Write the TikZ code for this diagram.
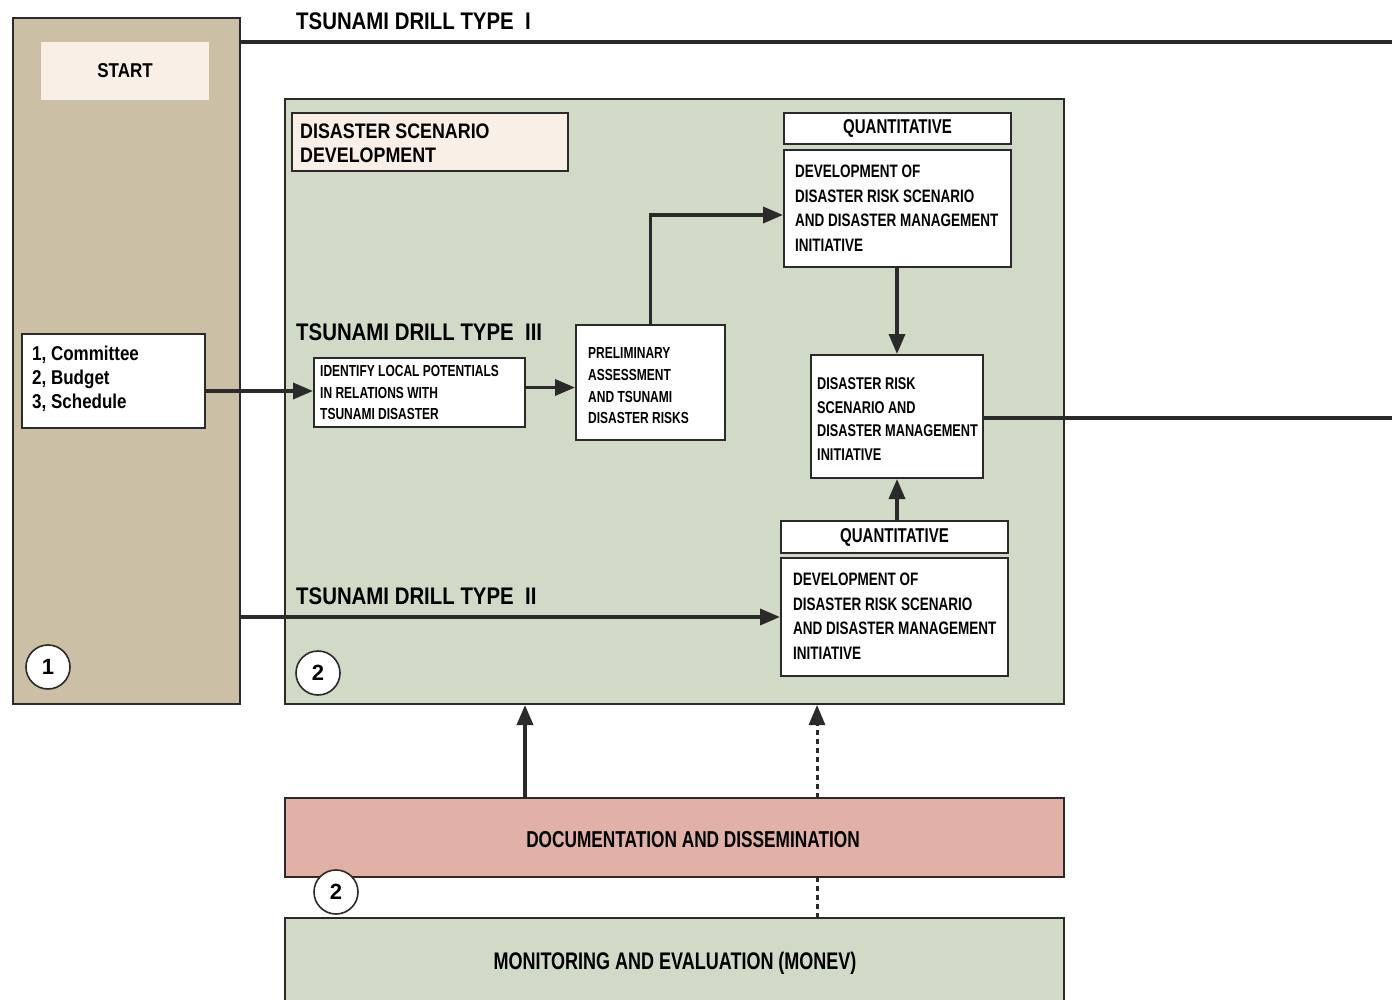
\documentclass[tikz,border=0pt]{standalone}
\usepackage{fontspec}
\setmainfont{Liberation Sans}
\newfontfamily\cndA[FakeStretch=0.85]{Liberation Sans}
\newfontfamily\cndB[FakeStretch=0.75]{Liberation Sans}
\usetikzlibrary{arrows.meta}
\definecolor{tanfill}{HTML}{CBBFA5}
\definecolor{greenfill}{HTML}{D0DAC6}
\definecolor{creamfill}{HTML}{FAEFE6}
\definecolor{pinkfill}{HTML}{E1B0A6}
\definecolor{edge}{HTML}{2A2A2A}
\begin{document}
\begin{tikzpicture}[x=1pt,y=-1pt,
  panel/.style={draw=edge, line width=2pt, inner sep=0pt},
  box/.style={draw=edge, line width=2pt, fill=white, inner sep=0pt},
  head/.style={font=\cndA\bfseries\fontsize{24}{28}\selectfont, anchor=west, inner sep=0pt},
  btxt/.style={font=\cndB\bfseries\fontsize{18}{24.5}\selectfont, align=left, anchor=west, inner sep=0pt},
  conn/.style={line width=3.5pt, draw=edge},
  arr/.style={conn, -{Triangle[length=20pt,width=16pt]}},
  darr/.style={line width=3pt, draw=edge, dashed, dash pattern=on 5pt off 4pt, -{Triangle[length=20pt,width=16pt]}},
  dline/.style={line width=3pt, draw=edge, dash pattern=on 5pt off 4pt},
  num/.style={circle, draw=edge, line width=1.6pt, fill=white, minimum size=44pt, inner sep=0pt, font=\bfseries\fontsize{22}{22}\selectfont}
]
\clip (0,0) rectangle (1392,1000);
\useasboundingbox (0,0) rectangle (1392,1000);
\fill[white] (0,0) rectangle (1392,1000);

% panels
\node[panel, fill=tanfill, minimum width=227pt, minimum height=686pt] (tan) at (126.5,361) {};
\node[fill=creamfill, minimum width=168pt, minimum height=58pt, inner sep=0pt, font=\cndA\bfseries\fontsize{20}{24}\selectfont] (start) at (125,71) {START};
\node[panel, fill=greenfill, minimum width=779pt, minimum height=605pt] (green) at (674.5,401.5) {};
\node[panel, fill=pinkfill, minimum width=779pt, minimum height=79pt] (doc) at (674.5,837.5) {};
\node[font=\cndB\bfseries\fontsize{23}{26}\selectfont, inner sep=0pt] (doctxt) at (693,840) {DOCUMENTATION AND DISSEMINATION};
\node[panel, fill=greenfill, minimum width=779pt, minimum height=104pt] (monev) at (674.5,970) {};
\node[font=\cndB\bfseries\fontsize{24}{26}\selectfont, inner sep=0pt] (monevtxt) at (675,963) {MONITORING AND EVALUATION (MONEV)};

% headings
\node[head] (t1) at (296,21) {TSUNAMI DRILL TYPE~~I};
\node[head] (t3) at (296,332) {TSUNAMI DRILL TYPE~~III};
\node[head] (t2) at (296,596) {TSUNAMI DRILL TYPE~~II};

% boxes
\node[box, fill=creamfill, minimum width=276pt, minimum height=58pt] (dsd) at (430,142) {};
\node[font=\cndA\bfseries\fontsize{21}{24}\selectfont, align=left, anchor=west, inner sep=0pt] (dsdtxt) at (300,143) {DISASTER SCENARIO\\DEVELOPMENT};

\node[box, minimum width=183pt, minimum height=94pt] (comm) at (113.5,381) {};
\node[font=\cndA\bfseries\fontsize{20}{24}\selectfont, align=left, anchor=west, inner sep=0pt] (commtxt) at (32,379) {1, Committee\\2, Budget\\3, Schedule};

\node[box, minimum width=211pt, minimum height=69pt] (ident) at (419.5,392.5) {};
\node[font=\cndB\bfseries\fontsize{16}{21.5}\selectfont, align=left, anchor=west, inner sep=0pt] (identtxt) at (320,392.5) {IDENTIFY LOCAL POTENTIALS\\IN RELATIONS WITH\\TSUNAMI DISASTER};

\node[box, minimum width=149pt, minimum height=115pt] (prelim) at (650.5,382.5) {};
\node[font=\cndB\bfseries\fontsize{16}{21.7}\selectfont, align=left, anchor=west, inner sep=0pt] (prelimtxt) at (588,386) {PRELIMINARY\\ASSESSMENT\\AND TSUNAMI\\DISASTER RISKS};

\node[box, minimum width=227pt, minimum height=31pt, font=\cndB\bfseries\fontsize{20}{22}\selectfont] (qtop) at (897.5,128.5) {QUANTITATIVE};
\node[box, minimum width=227pt, minimum height=117pt] (devtop) at (897.5,208.5) {};
\node[btxt] (devtoptxt) at (795,208) {DEVELOPMENT OF\\DISASTER RISK SCENARIO\\AND DISASTER MANAGEMENT\\INITIATIVE};

\node[box, minimum width=172pt, minimum height=123pt] (drisk) at (897,416.5) {};
\node[font=\cndB\bfseries\fontsize{17}{23.5}\selectfont, align=left, anchor=west, inner sep=0pt] (drisktxt) at (817,419) {DISASTER RISK\\SCENARIO AND\\DISASTER MANAGEMENT\\INITIATIVE};

\node[box, minimum width=227pt, minimum height=32pt, font=\cndB\bfseries\fontsize{20}{22}\selectfont] (qbot) at (894.5,537) {QUANTITATIVE};
\node[box, minimum width=227pt, minimum height=118pt] (devbot) at (894.5,617) {};
\node[btxt] (devbottxt) at (793,616) {DEVELOPMENT OF\\DISASTER RISK SCENARIO\\AND DISASTER MANAGEMENT\\INITIATIVE};

% number markers
\node[num] (n1) at (48,667) {1};
\node[num] (n2) at (318,673) {2};
\node[num] (n3) at (336,892) {2};

% connectors
\coordinate (t1a) at (240,42);
\coordinate (t1b) at (1392,42);
\draw[conn] (t1a) -- (t1b);
\coordinate (ce) at ([yshift=1.5pt]ident.west);
\draw[arr] (comm.east |- ce) -- (ce);
\coordinate (ie) at ([yshift=5pt]ident.east);
\draw[arr] (ie) -- (ie -| prelim.west);
\coordinate (dw) at ([yshift=-6.5pt]devtop.west);
\draw[arr] (prelim.north) |- (dw);
\draw[arr] (drisk.north |- devtop.south) -- (drisk.north);
\draw[arr] (drisk.south |- qbot.north) -- (drisk.south);
\coordinate (riskend) at (1392,418);
\draw[conn] (drisk.east |- riskend) -- (riskend);
\draw[arr] (tan.east |- devbot.west) -- (devbot.west);
\coordinate (d1) at (525,798);
\draw[arr] (d1) -- (d1 |- green.south);
\coordinate (d2) at (817,798);
\draw[darr] (d2) -- (d2 |- green.south);
\coordinate (d3) at (817,918);
\draw[dline] (d3) -- (d3 |- doc.south);
\end{tikzpicture}
\end{document}
